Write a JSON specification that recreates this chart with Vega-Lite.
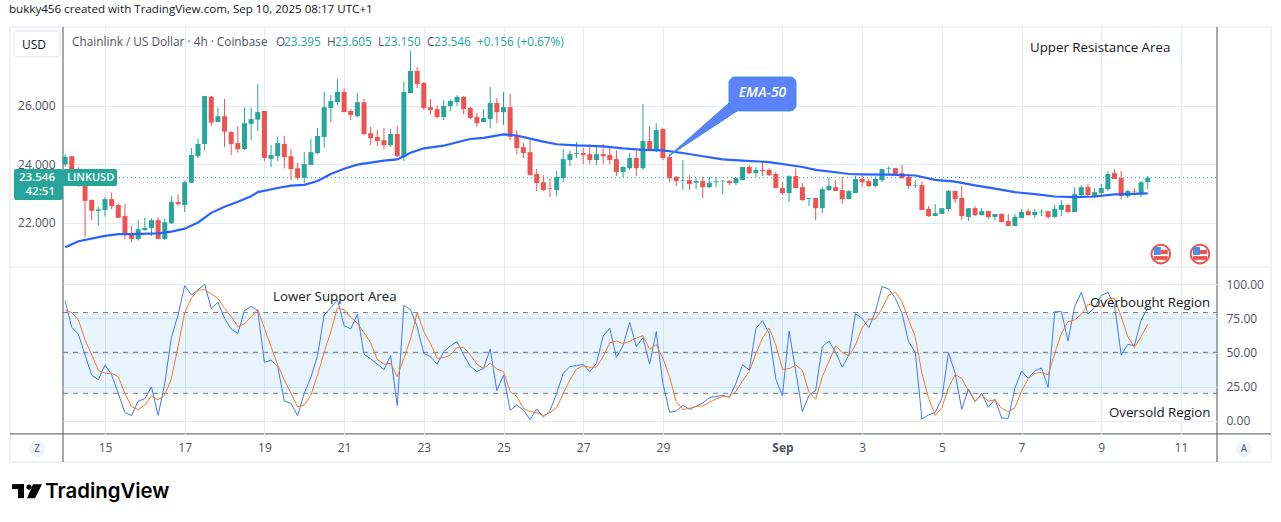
{
"$schema":"https://vega.github.io/schema/vega-lite/v6.json",
"background":"white",
"padding":{"left":9,"right":9,"top":3,"bottom":0},
"bounds":"flush",
"spacing":0,
"config":{"view":{"stroke":null},"font":"Open Sans","text":{"font":"Open Sans"}},
"datasets":{
"bars":[
{"t":"2025-08-14T00:00Z","o":24.00,"h":24.35,"l":23.92,"c":24.26,"k":87.8,"d":81.2},
{"t":"2025-08-14T04:00Z","o":24.28,"h":24.28,"l":23.69,"c":23.83,"k":68.5,"d":79.3},
{"t":"2025-08-14T08:00Z","o":23.83,"h":23.90,"l":23.23,"c":23.67,"k":63.4,"d":73.9},
{"t":"2025-08-14T12:00Z","o":23.67,"h":23.70,"l":21.52,"c":22.75,"k":48.3,"d":59.3},
{"t":"2025-08-14T16:00Z","o":22.78,"h":22.80,"l":22.09,"c":22.41,"k":33.4,"d":48.3},
{"t":"2025-08-14T20:00Z","o":22.41,"h":22.55,"l":21.90,"c":22.46,"k":30.2,"d":37.1},
{"t":"2025-08-15T00:00Z","o":22.44,"h":22.87,"l":22.21,"c":22.81,"k":41.0,"d":34.9},
{"t":"2025-08-15T04:00Z","o":22.81,"h":23.04,"l":22.47,"c":22.57,"k":33.7,"d":34.9},
{"t":"2025-08-15T08:00Z","o":22.61,"h":22.64,"l":22.17,"c":22.17,"k":20.2,"d":32.4},
{"t":"2025-08-15T12:00Z","o":22.23,"h":22.64,"l":21.44,"c":21.60,"k":6.1,"d":20.2},
{"t":"2025-08-15T16:00Z","o":21.61,"h":21.89,"l":21.34,"c":21.45,"k":4.1,"d":10.5},
{"t":"2025-08-15T20:00Z","o":21.44,"h":22.09,"l":21.39,"c":21.78,"k":14.6,"d":8.3},
{"t":"2025-08-16T00:00Z","o":21.75,"h":22.17,"l":21.73,"c":21.82,"k":16.3,"d":11.7},
{"t":"2025-08-16T04:00Z","o":21.82,"h":22.15,"l":21.55,"c":22.09,"k":24.9,"d":18.5},
{"t":"2025-08-16T08:00Z","o":22.09,"h":22.18,"l":21.44,"c":21.45,"k":4.1,"d":15.4},
{"t":"2025-08-16T12:00Z","o":21.44,"h":22.15,"l":21.41,"c":22.02,"k":27.6,"d":19.0},
{"t":"2025-08-16T16:00Z","o":21.98,"h":22.91,"l":21.96,"c":22.71,"k":61.2,"d":31.2},
{"t":"2025-08-16T20:00Z","o":22.71,"h":22.98,"l":22.58,"c":22.64,"k":77.6,"d":54.4},
{"t":"2025-08-17T00:00Z","o":22.61,"h":23.44,"l":22.37,"c":23.39,"k":99.0,"d":79.3},
{"t":"2025-08-17T04:00Z","o":23.37,"h":24.56,"l":23.37,"c":24.32,"k":92.2,"d":89.8},
{"t":"2025-08-17T08:00Z","o":24.28,"h":24.87,"l":24.22,"c":24.70,"k":95.9,"d":95.6},
{"t":"2025-08-17T12:00Z","o":24.70,"h":26.34,"l":24.47,"c":26.34,"k":100,"d":96.1},
{"t":"2025-08-17T16:00Z","o":26.32,"h":26.34,"l":25.31,"c":25.43,"k":82.4,"d":92.9},
{"t":"2025-08-17T20:00Z","o":25.45,"h":25.95,"l":25.45,"c":25.65,"k":86.8,"d":89.8},
{"t":"2025-08-18T00:00Z","o":25.65,"h":26.24,"l":24.60,"c":25.12,"k":75.1,"d":82.4},
{"t":"2025-08-18T04:00Z","o":25.11,"h":25.14,"l":24.32,"c":24.70,"k":67.3,"d":76.3},
{"t":"2025-08-18T08:00Z","o":24.73,"h":25.31,"l":24.40,"c":24.52,"k":64.1,"d":69.0},
{"t":"2025-08-18T12:00Z","o":24.52,"h":25.95,"l":24.49,"c":25.41,"k":80.7,"d":71.0},
{"t":"2025-08-18T16:00Z","o":25.39,"h":25.95,"l":24.83,"c":25.55,"k":83.9,"d":76.3},
{"t":"2025-08-18T20:00Z","o":25.53,"h":26.75,"l":25.14,"c":25.79,"k":80.7,"d":81.7},
{"t":"2025-08-19T00:00Z","o":25.83,"h":25.83,"l":24.11,"c":24.22,"k":42.9,"d":67.8},
{"t":"2025-08-19T04:00Z","o":24.19,"h":24.66,"l":23.91,"c":24.32,"k":44.6,"d":54.4},
{"t":"2025-08-19T08:00Z","o":24.28,"h":24.94,"l":24.11,"c":24.73,"k":39.8,"d":41.0},
{"t":"2025-08-19T12:00Z","o":24.70,"h":24.97,"l":23.87,"c":24.25,"k":14.6,"d":30.0},
{"t":"2025-08-19T16:00Z","o":24.28,"h":24.52,"l":23.46,"c":23.84,"k":12.9,"d":20.2},
{"t":"2025-08-19T20:00Z","o":23.87,"h":24.05,"l":23.46,"c":23.54,"k":3.9,"d":10.2},
{"t":"2025-08-20T00:00Z","o":23.54,"h":24.42,"l":23.36,"c":24.01,"k":20.2,"d":11.7},
{"t":"2025-08-20T04:00Z","o":23.98,"h":24.87,"l":23.98,"c":24.42,"k":32.0,"d":18.8},
{"t":"2025-08-20T08:00Z","o":24.39,"h":25.24,"l":24.35,"c":24.97,"k":47.8,"d":33.7},
{"t":"2025-08-20T12:00Z","o":24.94,"h":26.48,"l":24.58,"c":25.96,"k":77.6,"d":50.2},
{"t":"2025-08-20T16:00Z","o":25.93,"h":26.37,"l":25.45,"c":26.17,"k":82.9,"d":65.4},
{"t":"2025-08-20T20:00Z","o":26.13,"h":26.92,"l":26.03,"c":26.48,"k":88.5,"d":82.9},
{"t":"2025-08-21T00:00Z","o":26.48,"h":26.61,"l":25.79,"c":25.79,"k":69.8,"d":81.2},
{"t":"2025-08-21T04:00Z","o":25.83,"h":25.89,"l":25.52,"c":25.69,"k":67.3,"d":75.9},
{"t":"2025-08-21T08:00Z","o":25.65,"h":26.44,"l":25.62,"c":26.13,"k":78.0,"d":71.5},
{"t":"2025-08-21T12:00Z","o":26.13,"h":26.24,"l":25.00,"c":25.04,"k":48.8,"d":64.6},
{"t":"2025-08-21T16:00Z","o":25.07,"h":25.28,"l":24.66,"c":24.90,"k":45.4,"d":57.3},
{"t":"2025-08-21T20:00Z","o":24.94,"h":25.18,"l":24.63,"c":24.80,"k":41.7,"d":45.1},
{"t":"2025-08-22T00:00Z","o":24.83,"h":25.24,"l":24.52,"c":24.66,"k":37.6,"d":41.5},
{"t":"2025-08-22T04:00Z","o":24.66,"h":25.21,"l":24.60,"c":25.04,"k":47.8,"d":42.2},
{"t":"2025-08-22T08:00Z","o":25.04,"h":25.31,"l":24.25,"c":24.28,"k":11.2,"d":32.4},
{"t":"2025-08-22T12:00Z","o":24.25,"h":26.82,"l":24.11,"c":26.48,"k":84.6,"d":45.9},
{"t":"2025-08-22T16:00Z","o":26.44,"h":27.88,"l":26.44,"c":27.20,"k":81.5,"d":60.0},
{"t":"2025-08-22T20:00Z","o":27.20,"h":27.33,"l":26.61,"c":26.75,"k":69.0,"d":79.3},
{"t":"2025-08-23T00:00Z","o":26.79,"h":26.82,"l":25.86,"c":25.93,"k":49.5,"d":65.4},
{"t":"2025-08-23T04:00Z","o":25.96,"h":26.24,"l":25.72,"c":25.86,"k":47.1,"d":56.8},
{"t":"2025-08-23T08:00Z","o":25.89,"h":26.03,"l":25.59,"c":25.62,"k":41.5,"d":45.9},
{"t":"2025-08-23T12:00Z","o":25.62,"h":26.20,"l":25.52,"c":26.00,"k":50.7,"d":46.3},
{"t":"2025-08-23T16:00Z","o":26.00,"h":26.24,"l":25.83,"c":26.17,"k":54.9,"d":48.3},
{"t":"2025-08-23T20:00Z","o":26.13,"h":26.37,"l":26.00,"c":26.31,"k":58.0,"d":53.9},
{"t":"2025-08-24T00:00Z","o":26.31,"h":26.34,"l":25.72,"c":25.89,"k":48.3,"d":53.9},
{"t":"2025-08-24T04:00Z","o":25.93,"h":25.96,"l":25.55,"c":25.59,"k":40.0,"d":48.3},
{"t":"2025-08-24T08:00Z","o":25.62,"h":25.76,"l":25.28,"c":25.41,"k":36.1,"d":41.5},
{"t":"2025-08-24T12:00Z","o":25.45,"h":25.89,"l":25.45,"c":25.59,"k":38.5,"d":38.3},
{"t":"2025-08-24T16:00Z","o":25.55,"h":26.65,"l":25.24,"c":26.10,"k":52.7,"d":42.4},
{"t":"2025-08-24T20:00Z","o":26.10,"h":26.27,"l":25.41,"c":25.79,"k":22.2,"d":38.1},
{"t":"2025-08-25T00:00Z","o":25.79,"h":26.48,"l":25.35,"c":25.96,"k":33.7,"d":36.1},
{"t":"2025-08-25T04:00Z","o":25.96,"h":26.41,"l":24.83,"c":24.94,"k":7.8,"d":21.5},
{"t":"2025-08-25T08:00Z","o":25.00,"h":25.18,"l":24.35,"c":24.56,"k":11.7,"d":17.8},
{"t":"2025-08-25T12:00Z","o":24.59,"h":24.73,"l":24.22,"c":24.39,"k":8.0,"d":9.3},
{"t":"2025-08-25T16:00Z","o":24.42,"h":24.83,"l":23.63,"c":23.63,"k":1.0,"d":6.8},
{"t":"2025-08-25T20:00Z","o":23.67,"h":23.84,"l":23.09,"c":23.36,"k":8.8,"d":6.1},
{"t":"2025-08-26T00:00Z","o":23.39,"h":23.63,"l":23.09,"c":23.12,"k":2.9,"d":3.9},
{"t":"2025-08-26T04:00Z","o":23.19,"h":23.50,"l":22.88,"c":23.17,"k":7.6,"d":6.1},
{"t":"2025-08-26T08:00Z","o":23.12,"h":23.77,"l":22.91,"c":23.57,"k":20.2,"d":9.8},
{"t":"2025-08-26T12:00Z","o":23.53,"h":24.52,"l":23.39,"c":24.18,"k":34.9,"d":20.2},
{"t":"2025-08-26T16:00Z","o":24.15,"h":24.46,"l":23.94,"c":24.35,"k":39.8,"d":30.0},
{"t":"2025-08-26T20:00Z","o":24.36,"h":24.76,"l":24.22,"c":24.39,"k":40.5,"d":38.1},
{"t":"2025-08-27T00:00Z","o":24.39,"h":24.56,"l":24.01,"c":24.32,"k":41.5,"d":40.3},
{"t":"2025-08-27T04:00Z","o":24.35,"h":24.70,"l":24.01,"c":24.15,"k":36.1,"d":39.3},
{"t":"2025-08-27T08:00Z","o":24.15,"h":24.66,"l":23.98,"c":24.35,"k":42.2,"d":39.5},
{"t":"2025-08-27T12:00Z","o":24.35,"h":24.70,"l":24.01,"c":24.28,"k":62.2,"d":47.1},
{"t":"2025-08-27T16:00Z","o":24.32,"h":24.59,"l":24.01,"c":24.15,"k":67.8,"d":57.3},
{"t":"2025-08-27T20:00Z","o":24.18,"h":24.49,"l":23.60,"c":23.74,"k":46.6,"d":58.5},
{"t":"2025-08-28T00:00Z","o":23.74,"h":23.94,"l":23.57,"c":23.91,"k":55.1,"d":56.6},
{"t":"2025-08-28T04:00Z","o":23.87,"h":24.39,"l":23.81,"c":24.22,"k":72.2,"d":58.3},
{"t":"2025-08-28T08:00Z","o":24.22,"h":24.46,"l":23.60,"c":23.87,"k":54.4,"d":60.7},
{"t":"2025-08-28T12:00Z","o":23.87,"h":26.07,"l":23.81,"c":24.80,"k":61.0,"d":62.4},
{"t":"2025-08-28T16:00Z","o":24.80,"h":25.31,"l":24.46,"c":24.46,"k":41.5,"d":52.4},
{"t":"2025-08-28T20:00Z","o":24.46,"h":25.41,"l":24.42,"c":25.18,"k":65.4,"d":55.9},
{"t":"2025-08-29T00:00Z","o":25.21,"h":25.24,"l":24.15,"c":24.22,"k":27.6,"d":45.9},
{"t":"2025-08-29T04:00Z","o":24.25,"h":24.35,"l":23.39,"c":23.53,"k":6.3,"d":32.4},
{"t":"2025-08-29T08:00Z","o":23.57,"h":23.60,"l":23.26,"c":23.43,"k":7.3,"d":14.2},
{"t":"2025-08-29T12:00Z","o":23.44,"h":24.15,"l":23.12,"c":23.46,"k":11.5,"d":8.5},
{"t":"2025-08-29T16:00Z","o":23.46,"h":23.63,"l":23.12,"c":23.33,"k":8.5,"d":9.3},
{"t":"2025-08-29T20:00Z","o":23.37,"h":23.53,"l":23.15,"c":23.43,"k":10.7,"d":10.7},
{"t":"2025-08-30T00:00Z","o":23.43,"h":23.57,"l":22.85,"c":23.22,"k":13.2,"d":11.0},
{"t":"2025-08-30T04:00Z","o":23.22,"h":23.57,"l":23.19,"c":23.36,"k":17.1,"d":13.7},
{"t":"2025-08-30T08:00Z","o":23.39,"h":23.57,"l":23.22,"c":23.42,"k":18.0,"d":16.1},
{"t":"2025-08-30T12:00Z","o":23.42,"h":23.46,"l":22.98,"c":23.44,"k":18.8,"d":18.0},
{"t":"2025-08-30T16:00Z","o":23.43,"h":23.46,"l":23.29,"c":23.36,"k":17.3,"d":18.0},
{"t":"2025-08-30T20:00Z","o":23.36,"h":23.57,"l":23.29,"c":23.53,"k":27.6,"d":21.5},
{"t":"2025-08-31T00:00Z","o":23.46,"h":23.91,"l":23.46,"c":23.91,"k":41.2,"d":29.5},
{"t":"2025-08-31T04:00Z","o":23.91,"h":23.98,"l":23.67,"c":23.70,"k":37.3,"d":36.1},
{"t":"2025-08-31T08:00Z","o":23.70,"h":23.91,"l":23.57,"c":23.81,"k":67.6,"d":49.3},
{"t":"2025-08-31T12:00Z","o":23.81,"h":24.08,"l":23.60,"c":23.77,"k":73.4,"d":60.5},
{"t":"2025-08-31T16:00Z","o":23.81,"h":23.87,"l":23.60,"c":23.63,"k":64.1,"d":68.0},
{"t":"2025-08-31T20:00Z","o":23.67,"h":23.74,"l":23.19,"c":23.19,"k":30.7,"d":55.6},
{"t":"2025-09-01T00:00Z","o":23.19,"h":23.39,"l":22.95,"c":23.02,"k":18.5,"d":37.8},
{"t":"2025-09-01T04:00Z","o":23.02,"h":23.63,"l":22.71,"c":23.60,"k":65.9,"d":38.3},
{"t":"2025-09-01T08:00Z","o":23.60,"h":23.87,"l":23.19,"c":23.19,"k":36.6,"d":41.0},
{"t":"2025-09-01T12:00Z","o":23.22,"h":23.36,"l":22.74,"c":22.78,"k":6.8,"d":37.1},
{"t":"2025-09-01T16:00Z","o":22.82,"h":22.85,"l":22.57,"c":22.85,"k":18.8,"d":21.0},
{"t":"2025-09-01T20:00Z","o":22.85,"h":22.85,"l":22.09,"c":22.50,"k":22.4,"d":15.9},
{"t":"2025-09-02T00:00Z","o":22.50,"h":23.22,"l":22.33,"c":23.15,"k":54.4,"d":32.4},
{"t":"2025-09-02T04:00Z","o":23.12,"h":23.57,"l":23.09,"c":23.26,"k":58.5,"d":43.4},
{"t":"2025-09-02T08:00Z","o":23.22,"h":23.46,"l":23.09,"c":23.09,"k":50.2,"d":54.9},
{"t":"2025-09-02T12:00Z","o":23.12,"h":23.57,"l":22.64,"c":22.81,"k":39.3,"d":50.2},
{"t":"2025-09-02T16:00Z","o":22.81,"h":23.12,"l":22.81,"c":23.09,"k":48.3,"d":47.6},
{"t":"2025-09-02T20:00Z","o":23.02,"h":23.60,"l":23.02,"c":23.50,"k":78.5,"d":55.6},
{"t":"2025-09-03T00:00Z","o":23.50,"h":23.63,"l":23.22,"c":23.39,"k":75.1,"d":68.3},
{"t":"2025-09-03T04:00Z","o":23.43,"h":23.50,"l":23.22,"c":23.26,"k":68.3,"d":74.4},
{"t":"2025-09-03T08:00Z","o":23.26,"h":23.60,"l":23.22,"c":23.50,"k":80.0,"d":74.6},
{"t":"2025-09-03T12:00Z","o":23.46,"h":23.84,"l":23.39,"c":23.84,"k":98.3,"d":82.4},
{"t":"2025-09-03T16:00Z","o":23.85,"h":23.94,"l":23.67,"c":23.87,"k":96.6,"d":92.2},
{"t":"2025-09-03T20:00Z","o":23.87,"h":23.87,"l":23.67,"c":23.67,"k":89.8,"d":94.1},
{"t":"2025-09-04T00:00Z","o":23.70,"h":23.98,"l":23.50,"c":23.53,"k":78.8,"d":87.3},
{"t":"2025-09-04T04:00Z","o":23.57,"h":23.67,"l":23.15,"c":23.26,"k":58.0,"d":73.9},
{"t":"2025-09-04T08:00Z","o":23.27,"h":23.46,"l":23.19,"c":23.29,"k":50.2,"d":61.7},
{"t":"2025-09-04T12:00Z","o":23.29,"h":23.43,"l":22.44,"c":22.44,"k":1.5,"d":34.9},
{"t":"2025-09-04T16:00Z","o":22.47,"h":22.57,"l":22.20,"c":22.23,"k":4.4,"d":16.6},
{"t":"2025-09-04T20:00Z","o":22.23,"h":22.64,"l":22.23,"c":22.33,"k":6.3,"d":4.1},
{"t":"2025-09-05T00:00Z","o":22.30,"h":22.50,"l":22.30,"c":22.50,"k":16.6,"d":9.8},
{"t":"2025-09-05T04:00Z","o":22.47,"h":23.12,"l":22.40,"c":23.09,"k":50.0,"d":24.4},
{"t":"2025-09-05T08:00Z","o":23.09,"h":23.09,"l":22.68,"c":22.81,"k":34.9,"d":33.9},
{"t":"2025-09-05T12:00Z","o":22.85,"h":23.26,"l":22.09,"c":22.23,"k":8.5,"d":31.2},
{"t":"2025-09-05T16:00Z","o":22.20,"h":22.50,"l":22.06,"c":22.50,"k":23.4,"d":22.0},
{"t":"2025-09-05T20:00Z","o":22.50,"h":22.57,"l":22.23,"c":22.26,"k":14.2,"d":14.6},
{"t":"2025-09-06T00:00Z","o":22.26,"h":22.50,"l":22.26,"c":22.40,"k":20.2,"d":19.0},
{"t":"2025-09-06T04:00Z","o":22.40,"h":22.40,"l":22.13,"c":22.20,"k":10.0,"d":14.6},
{"t":"2025-09-06T08:00Z","o":22.20,"h":22.30,"l":22.09,"c":22.30,"k":15.9,"d":15.4},
{"t":"2025-09-06T12:00Z","o":22.30,"h":22.33,"l":22.02,"c":22.02,"k":2.2,"d":9.3},
{"t":"2025-09-06T16:00Z","o":22.06,"h":22.30,"l":21.89,"c":21.89,"k":1.9,"d":6.8},
{"t":"2025-09-06T20:00Z","o":21.89,"h":22.30,"l":21.89,"c":22.20,"k":23.9,"d":9.8},
{"t":"2025-09-07T00:00Z","o":22.16,"h":22.47,"l":22.16,"c":22.37,"k":36.6,"d":22.0},
{"t":"2025-09-07T04:00Z","o":22.40,"h":22.47,"l":22.26,"c":22.26,"k":31.2,"d":30.7},
{"t":"2025-09-07T08:00Z","o":22.26,"h":22.47,"l":22.16,"c":22.37,"k":36.6,"d":34.9},
{"t":"2025-09-07T12:00Z","o":22.36,"h":22.47,"l":22.23,"c":22.38,"k":38.8,"d":35.6},
{"t":"2025-09-07T16:00Z","o":22.40,"h":22.40,"l":22.13,"c":22.20,"k":24.6,"d":33.7},
{"t":"2025-09-07T20:00Z","o":22.20,"h":22.61,"l":22.16,"c":22.47,"k":80.0,"d":49.5},
{"t":"2025-09-08T00:00Z","o":22.44,"h":22.78,"l":22.23,"c":22.61,"k":80.0,"d":64.1},
{"t":"2025-09-08T04:00Z","o":22.61,"h":22.64,"l":22.33,"c":22.37,"k":58.5,"d":72.7},
{"t":"2025-09-08T08:00Z","o":22.37,"h":23.22,"l":22.37,"c":22.98,"k":83.7,"d":73.9},
{"t":"2025-09-08T12:00Z","o":22.95,"h":23.29,"l":22.91,"c":23.22,"k":94.1,"d":78.0},
{"t":"2025-09-08T16:00Z","o":23.22,"h":23.33,"l":22.91,"c":22.95,"k":78.3,"d":85.4},
{"t":"2025-09-08T20:00Z","o":22.91,"h":23.19,"l":22.85,"c":23.05,"k":82.9,"d":84.2},
{"t":"2025-09-09T00:00Z","o":23.02,"h":23.33,"l":22.88,"c":23.19,"k":91.7,"d":83.7},
{"t":"2025-09-09T04:00Z","o":23.15,"h":23.77,"l":23.09,"c":23.67,"k":94.1,"d":89.3},
{"t":"2025-09-09T08:00Z","o":23.70,"h":23.84,"l":23.50,"c":23.50,"k":84.9,"d":89.8},
{"t":"2025-09-09T12:00Z","o":23.53,"h":23.77,"l":22.81,"c":22.91,"k":48.3,"d":76.3},
{"t":"2025-09-09T16:00Z","o":22.91,"h":23.12,"l":22.85,"c":23.09,"k":56.1,"d":61.7},
{"t":"2025-09-09T20:00Z","o":23.07,"h":23.19,"l":22.95,"c":23.05,"k":55.1,"d":53.7},
{"t":"2025-09-10T00:00Z","o":23.02,"h":23.43,"l":22.88,"c":23.39,"k":73.9,"d":61.7},
{"t":"2025-09-10T04:00Z","o":23.395,"h":23.605,"l":23.15,"c":23.546,"k":82.4,"d":70.7}
],
"ema":[
{"t":"2025-08-14T00:00Z","p":21.16},{"t":"2025-08-14T08:00Z","p":21.37},{"t":"2025-08-15T00:00Z","p":21.55},{"t":"2025-08-15T08:00Z","p":21.61},{"t":"2025-08-15T16:00Z","p":21.61},{"t":"2025-08-16T08:00Z","p":21.64},{"t":"2025-08-16T16:00Z","p":21.70},{"t":"2025-08-17T00:00Z","p":21.80},{"t":"2025-08-17T08:00Z","p":22.01},{"t":"2025-08-17T16:00Z","p":22.34},{"t":"2025-08-18T00:00Z","p":22.55},{"t":"2025-08-18T08:00Z","p":22.72},{"t":"2025-08-18T16:00Z","p":22.91},{"t":"2025-08-18T20:00Z","p":23.05},{"t":"2025-08-19T08:00Z","p":23.19},{"t":"2025-08-19T16:00Z","p":23.27},{"t":"2025-08-20T00:00Z","p":23.30},{"t":"2025-08-20T08:00Z","p":23.43},{"t":"2025-08-20T16:00Z","p":23.67},{"t":"2025-08-21T00:00Z","p":23.85},{"t":"2025-08-21T08:00Z","p":23.99},{"t":"2025-08-21T16:00Z","p":24.06},{"t":"2025-08-22T00:00Z","p":24.13},{"t":"2025-08-22T08:00Z","p":24.17},{"t":"2025-08-22T16:00Z","p":24.40},{"t":"2025-08-23T00:00Z","p":24.55},{"t":"2025-08-23T12:00Z","p":24.64},{"t":"2025-08-23T20:00Z","p":24.76},{"t":"2025-08-24T04:00Z","p":24.87},{"t":"2025-08-24T12:00Z","p":24.91},{"t":"2025-08-25T00:00Z","p":25.03},{"t":"2025-08-25T08:00Z","p":24.99},{"t":"2025-08-25T16:00Z","p":24.88},{"t":"2025-08-26T00:00Z","p":24.78},{"t":"2025-08-26T08:00Z","p":24.69},{"t":"2025-08-26T20:00Z","p":24.65},{"t":"2025-08-27T12:00Z","p":24.62},{"t":"2025-08-28T00:00Z","p":24.55},{"t":"2025-08-28T12:00Z","p":24.50},{"t":"2025-08-29T00:00Z","p":24.48},{"t":"2025-08-29T12:00Z","p":24.39},{"t":"2025-08-30T00:00Z","p":24.28},{"t":"2025-08-30T12:00Z","p":24.17},{"t":"2025-08-31T00:00Z","p":24.13},{"t":"2025-08-31T16:00Z","p":24.08},{"t":"2025-09-01T04:00Z","p":23.98},{"t":"2025-09-01T12:00Z","p":23.91},{"t":"2025-09-01T20:00Z","p":23.81},{"t":"2025-09-02T08:00Z","p":23.73},{"t":"2025-09-02T16:00Z","p":23.67},{"t":"2025-09-03T00:00Z","p":23.66},{"t":"2025-09-03T16:00Z","p":23.65},{"t":"2025-09-04T08:00Z","p":23.62},{"t":"2025-09-04T20:00Z","p":23.47},{"t":"2025-09-05T08:00Z","p":23.41},{"t":"2025-09-05T20:00Z","p":23.28},{"t":"2025-09-06T08:00Z","p":23.17},{"t":"2025-09-06T20:00Z","p":23.05},{"t":"2025-09-07T08:00Z","p":22.98},{"t":"2025-09-07T20:00Z","p":22.90},{"t":"2025-09-08T08:00Z","p":22.88},{"t":"2025-09-08T20:00Z","p":22.90},{"t":"2025-09-09T08:00Z","p":22.97},{"t":"2025-09-09T20:00Z","p":22.99},{"t":"2025-09-10T04:00Z","p":23.01}
]
},
"vconcat":[
{
"width":1154,"height":240,
"resolve":{"scale":{"color":"independent"}},
"encoding":{"x":{"field":"t","type":"temporal","title":null,
  "scale":{"type":"utc","padding":0,"domain":[{"year":2025,"month":"aug","date":13,"hours":22,"minutes":42,"utc":true},{"year":2025,"month":"sep","date":11,"hours":21,"minutes":43,"utc":true}]},
  "axis":{"labels":false,"ticks":false,"domain":false,"grid":true,"gridColor":"#e4ebf2","values":[
    {"year":2025,"month":"aug","date":15,"utc":true},{"year":2025,"month":"aug","date":17,"utc":true},{"year":2025,"month":"aug","date":19,"utc":true},{"year":2025,"month":"aug","date":21,"utc":true},{"year":2025,"month":"aug","date":23,"utc":true},{"year":2025,"month":"aug","date":25,"utc":true},{"year":2025,"month":"aug","date":27,"utc":true},{"year":2025,"month":"aug","date":29,"utc":true},{"year":2025,"month":"sep","date":1,"utc":true},{"year":2025,"month":"sep","date":3,"utc":true},{"year":2025,"month":"sep","date":5,"utc":true},{"year":2025,"month":"sep","date":7,"utc":true},{"year":2025,"month":"sep","date":9,"utc":true},{"year":2025,"month":"sep","date":11,"utc":true}]}}},
"layer":[
{"data":{"values":[{"t":"2025-08-12T14:47Z","t2":"2025-09-13T06:14Z","top":28.705,"bot":13.81}]},
 "mark":{"type":"rect","fill":"transparent","stroke":"#eff2f7","strokeWidth":2,"clip":false},
 "encoding":{"x2":{"field":"t2"},
  "y":{"field":"top","type":"quantitative","title":null,"scale":{"domain":[20.486,28.705],"nice":false,"zero":false},
   "axis":{"values":[22,24,26],"format":".3f","ticks":false,"domain":false,"labelPadding":8,"labelFontSize":12,"labelColor":"#50535e","grid":true,"gridColor":"#e4ebf2"}},
  "y2":{"field":"bot"}}},
{"data":{"values":[
  {"t":"2025-08-12T14:47Z","t2":"2025-09-13T06:14Z","a":20.486,"b":20.486,"kind":"light"},
  {"t":"2025-08-12T14:47Z","t2":"2025-09-13T06:14Z","a":14.77,"b":14.77,"kind":"dark"},
  {"t":"2025-08-13T22:42Z","t2":"2025-08-13T22:42Z","a":28.705,"b":13.81,"kind":"dark"},
  {"t":"2025-09-11T21:43Z","t2":"2025-09-11T21:43Z","a":28.705,"b":13.81,"kind":"dark"}]},
 "mark":{"type":"rule","strokeWidth":1,"clip":false},
 "encoding":{"x2":{"field":"t2"},
  "y":{"field":"a","type":"quantitative","title":null,"scale":{"domain":[20.486,28.705],"nice":false,"zero":false}},
  "y2":{"field":"b"},
  "color":{"field":"kind","type":"nominal","legend":null,"scale":{"domain":["light","dark"],"range":["#e0e3eb","#50535e"]}}}},
{"data":{"values":[{"t":"2025-08-13T22:42Z","t2":"2025-09-11T21:43Z","p":23.546}]},
 "mark":{"type":"rule","color":"#26a69a","strokeDash":[1,3],"strokeWidth":1},
 "encoding":{"x2":{"field":"t2"},
  "y":{"field":"p","type":"quantitative","title":null,"scale":{"domain":[20.486,28.705],"nice":false,"zero":false}}}},
{"data":{"name":"bars"},
 "mark":{"type":"rule","strokeWidth":1},
 "encoding":{
  "y":{"field":"l","type":"quantitative","title":null,"scale":{"domain":[20.486,28.705],"nice":false,"zero":false}},
  "y2":{"field":"h"},
  "color":{"condition":{"test":"datum.c>=datum.o","value":"#26a69a"},"value":"#ef5350"}}},
{"data":{"name":"bars"},
 "mark":{"type":"bar","size":5},
 "encoding":{
  "y":{"field":"o","type":"quantitative","title":null,"scale":{"domain":[20.486,28.705],"nice":false,"zero":false}},
  "y2":{"field":"c"},
  "color":{"condition":{"test":"datum.c>=datum.o","value":"#26a69a"},"value":"#ef5350"}}},
{"data":{"name":"ema"},
 "mark":{"type":"line","color":"#2962ff","strokeWidth":2.2},
 "encoding":{"y":{"field":"p","type":"quantitative","title":null,"scale":{"domain":[20.486,28.705],"nice":false,"zero":false}}}},
{"data":{"values":[
  {"t":"2025-08-29T03:40Z","a":24.29,"b":24.29},
  {"t":"2025-08-30T15:49Z","a":26.10,"b":25.65},
  {"t":"2025-08-30T20:37Z","a":26.10,"b":25.83}]},
 "mark":{"type":"area","color":"#5b82fb","stroke":"#3d8fd8","strokeWidth":1},
 "encoding":{"y":{"field":"a","type":"quantitative","title":null,"scale":{"domain":[20.486,28.705],"nice":false,"zero":false}},"y2":{"field":"b"}}},
{"data":{"values":[{"t":"2025-08-30T15:49Z","t2":"2025-09-01T08:10Z","a":26.99,"b":25.83}]},
 "mark":{"type":"rect","color":"#5b82fb","stroke":"#3d8fd8","strokeWidth":1,"cornerRadius":6},
 "encoding":{"x2":{"field":"t2"},"y":{"field":"a","type":"quantitative","title":null,"scale":{"domain":[20.486,28.705],"nice":false,"zero":false}},"y2":{"field":"b"}}},
{"data":{"values":[{"t":"2025-08-31T12:00Z","p":26.45,"label":"EMA-50"}]},
 "mark":{"type":"text","color":"white","fontStyle":"italic","fontWeight":600,"fontSize":14,"align":"center","baseline":"middle"},
 "encoding":{"y":{"field":"p","type":"quantitative","title":null,"scale":{"domain":[20.486,28.705],"nice":false,"zero":false}},"text":{"field":"label"}}},
{"data":{"values":[
  {"t":"2025-08-12T17:11Z","t2":"2025-08-13T22:42Z","a":23.84,"b":22.78},
  {"t":"2025-08-13T22:42Z","t2":"2025-08-15T07:14Z","a":23.84,"b":23.26}]},
 "mark":{"type":"rect","color":"#26a69a","cornerRadius":2,"clip":false},
 "encoding":{"x2":{"field":"t2"},"y":{"field":"a","type":"quantitative","title":null,"scale":{"domain":[20.486,28.705],"nice":false,"zero":false}},"y2":{"field":"b"}}},
{"data":{"values":[
  {"t":"2025-08-13T17:53Z","p":23.53,"label":"23.546"},
  {"t":"2025-08-13T17:53Z","p":23.05,"label":"42:51"}]},
 "mark":{"type":"text","color":"white","fontSize":11.5,"fontWeight":600,"align":"right","baseline":"middle","clip":false},
 "encoding":{"y":{"field":"p","type":"quantitative","title":null,"scale":{"domain":[20.486,28.705],"nice":false,"zero":false}},"text":{"field":"label"}}},
{"data":{"values":[{"t":"2025-08-14T01:06Z","p":23.53,"label":"LINKUSD"}]},
 "mark":{"type":"text","color":"white","fontSize":11,"fontWeight":600,"align":"left","baseline":"middle"},
 "encoding":{"y":{"field":"p","type":"quantitative","title":null,"scale":{"domain":[20.486,28.705],"nice":false,"zero":false}},"text":{"field":"label"}}},
{"data":{"values":[{"t":"2025-08-12T17:11Z","t2":"2025-08-13T20:54Z","a":28.57,"b":27.68}]},
 "mark":{"type":"rect","fill":"white","stroke":"#e0e3eb","strokeWidth":1,"cornerRadius":3,"clip":false},
 "encoding":{"x2":{"field":"t2"},"y":{"field":"a","type":"quantitative","title":null,"scale":{"domain":[20.486,28.705],"nice":false,"zero":false}},"y2":{"field":"b"}}},
{"data":{"values":[{"t":"2025-08-13T05:13Z","p":28.09,"label":"USD"}]},
 "mark":{"type":"text","color":"#131722","fontSize":12,"align":"center","baseline":"middle","clip":false},
 "encoding":{"y":{"field":"p","type":"quantitative","title":null,"scale":{"domain":[20.486,28.705],"nice":false,"zero":false}},"text":{"field":"label"}}},
{"data":{"values":[
  {"t":"2025-08-14T04:08Z","p":28.19,"label":"Chainlink / US Dollar · 4h · Coinbase","kind":"muted"},
  {"t":"2025-08-19T06:59Z","p":28.19,"label":"O","kind":"muted"},
  {"t":"2025-08-19T11:48Z","p":28.19,"label":"23.395","kind":"teal"},
  {"t":"2025-08-20T13:42Z","p":28.19,"label":"H","kind":"muted"},
  {"t":"2025-08-20T18:32Z","p":28.19,"label":"23.605","kind":"teal"},
  {"t":"2025-08-21T20:25Z","p":28.19,"label":"L","kind":"muted"},
  {"t":"2025-08-22T00:02Z","p":28.19,"label":"23.150","kind":"teal"},
  {"t":"2025-08-23T01:55Z","p":28.19,"label":"C","kind":"muted"},
  {"t":"2025-08-23T06:09Z","p":28.19,"label":"23.546","kind":"teal"},
  {"t":"2025-08-24T08:02Z","p":28.19,"label":"+0.156","kind":"teal"},
  {"t":"2025-08-25T08:08Z","p":28.19,"label":"(+0.67%)","kind":"teal"}]},
 "mark":{"type":"text","fontSize":11.8,"align":"left","baseline":"middle"},
 "encoding":{"y":{"field":"p","type":"quantitative","title":null,"scale":{"domain":[20.486,28.705],"nice":false,"zero":false}},
  "text":{"field":"label"},
  "color":{"field":"kind","type":"nominal","legend":null,"scale":{"domain":["muted","teal"],"range":["#50535e","#26a69a"]}}}},
{"data":{"values":[{"t":"2025-09-07T05:05Z","p":27.99,"label":"Upper Resistance Area"}]},
 "mark":{"type":"text","color":"#131722","fontSize":13.3,"align":"left","baseline":"middle"},
 "encoding":{"y":{"field":"p","type":"quantitative","title":null,"scale":{"domain":[20.486,28.705],"nice":false,"zero":false}},"text":{"field":"label"}}},
{"data":{"values":[{"t":"2025-08-12T14:11Z","p":29.29,"label":"bukky456 created with TradingView.com, Sep 10, 2025 08:17 UTC+1"}]},
 "mark":{"type":"text","color":"#131722","fontSize":11.6,"align":"left","baseline":"middle","clip":false},
 "encoding":{"y":{"field":"p","type":"quantitative","title":null,"scale":{"domain":[20.486,28.705],"nice":false,"zero":false}},"text":{"field":"label"}}},
{"data":{"values":[
  {"t":"2025-09-10T11:52Z","p":20.93},
  {"t":"2025-09-11T11:28Z","p":20.93}]},
 "mark":{"type":"point","filled":true,"fill":"white","stroke":"#ef5350","strokeWidth":2,"size":350,"opacity":1},
 "encoding":{"y":{"field":"p","type":"quantitative","title":null,"scale":{"domain":[20.486,28.705],"nice":false,"zero":false}}}},
{"data":{"values":[
  {"t":"2025-09-10T07:39Z","t2":"2025-09-10T11:52Z","a":21.17,"b":20.90,"kind":"blue"},
  {"t":"2025-09-10T11:52Z","t2":"2025-09-10T16:06Z","a":21.07,"b":20.93,"kind":"red"},
  {"t":"2025-09-10T07:39Z","t2":"2025-09-10T16:06Z","a":20.86,"b":20.73,"kind":"red"},
  {"t":"2025-09-11T07:15Z","t2":"2025-09-11T11:28Z","a":21.17,"b":20.90,"kind":"blue"},
  {"t":"2025-09-11T11:28Z","t2":"2025-09-11T15:42Z","a":21.07,"b":20.93,"kind":"red"},
  {"t":"2025-09-11T07:15Z","t2":"2025-09-11T15:42Z","a":20.86,"b":20.73,"kind":"red"}]},
 "mark":{"type":"rect"},
 "encoding":{"x2":{"field":"t2"},"y":{"field":"a","type":"quantitative","title":null,"scale":{"domain":[20.486,28.705],"nice":false,"zero":false}},"y2":{"field":"b"},
  "color":{"field":"kind","type":"nominal","legend":null,"scale":{"domain":["blue","red"],"range":["#4a90e2","#ef5350"]}}}},
{"data":{"values":[
  {"t":"2025-08-12T15:59Z","t2":"2025-08-12T23:12Z","a":13.05,"b":12.88},
  {"t":"2025-08-12T19:36Z","t2":"2025-08-12T23:12Z","a":13.05,"b":12.57}]},
 "mark":{"type":"rect","color":"#000000","clip":false},
 "encoding":{"x2":{"field":"t2"},"y":{"field":"a","type":"quantitative","title":null,"scale":{"domain":[20.486,28.705],"nice":false,"zero":false}},"y2":{"field":"b"}}},
{"data":{"values":[{"t":"2025-08-13T02:14Z","p":12.95}]},
 "mark":{"type":"point","filled":true,"color":"#000000","size":28,"opacity":1,"clip":false},
 "encoding":{"y":{"field":"p","type":"quantitative","title":null,"scale":{"domain":[20.486,28.705],"nice":false,"zero":false}}}},
{"data":{"values":[
  {"t":"2025-08-13T01:02Z","a":12.57,"b":12.57},
  {"t":"2025-08-13T04:38Z","a":13.05,"b":12.57},
  {"t":"2025-08-13T05:50Z","a":13.05,"b":12.57},
  {"t":"2025-08-13T10:04Z","a":13.05,"b":13.05}]},
 "mark":{"type":"area","color":"#000000","clip":false},
 "encoding":{"y":{"field":"a","type":"quantitative","title":null,"scale":{"domain":[20.486,28.705],"nice":false,"zero":false}},"y2":{"field":"b"}}},
{"data":{"values":[{"t":"2025-08-13T12:00Z","p":12.78,"label":"TradingView"}]},
 "mark":{"type":"text","color":"#000000","font":"Inter","fontSize":20.4,"fontWeight":600,"align":"left","baseline":"middle","clip":false},
 "encoding":{"y":{"field":"p","type":"quantitative","title":null,"scale":{"domain":[20.486,28.705],"nice":false,"zero":false}},"text":{"field":"label"}}}
]
},
{
"width":1154,"height":167,
"encoding":{"x":{"field":"t","type":"temporal","title":null,
  "scale":{"type":"utc","padding":0,"domain":[{"year":2025,"month":"aug","date":13,"hours":22,"minutes":42,"utc":true},{"year":2025,"month":"sep","date":11,"hours":21,"minutes":43,"utc":true}]},
  "axis":{"ticks":false,"domain":false,"grid":true,"gridColor":"#e4ebf2","labelPadding":8,"labelFontSize":12,"labelColor":"#50535e","labelAngle":0,
   "labelFontWeight":{"condition":{"test":"utcdate(datum.value)==1","value":"bold"},"value":"normal"},
   "labelExpr":"utcdate(datum.value)==1?'Sep':''+utcdate(datum.value)",
   "values":[
    {"year":2025,"month":"aug","date":15,"utc":true},{"year":2025,"month":"aug","date":17,"utc":true},{"year":2025,"month":"aug","date":19,"utc":true},{"year":2025,"month":"aug","date":21,"utc":true},{"year":2025,"month":"aug","date":23,"utc":true},{"year":2025,"month":"aug","date":25,"utc":true},{"year":2025,"month":"aug","date":27,"utc":true},{"year":2025,"month":"aug","date":29,"utc":true},{"year":2025,"month":"sep","date":1,"utc":true},{"year":2025,"month":"sep","date":3,"utc":true},{"year":2025,"month":"sep","date":5,"utc":true},{"year":2025,"month":"sep","date":7,"utc":true},{"year":2025,"month":"sep","date":9,"utc":true},{"year":2025,"month":"sep","date":11,"utc":true}]}}},
"layer":[
{"data":{"values":[{"t":"2025-08-13T22:42Z","t2":"2025-09-11T21:43Z","hi":79.3,"lo":20.2}]},
 "mark":{"type":"rect","color":"#2196f3","opacity":0.1},
 "encoding":{"x2":{"field":"t2"},
  "y":{"field":"hi","type":"quantitative","title":null,"scale":{"domain":[-9.51,112.65],"nice":false,"zero":false},
   "axis":{"orient":"right","values":[0,25,50,75,100],"format":".2f","ticks":false,"domain":false,"labelPadding":9,"labelFontSize":12,"labelColor":"#50535e","grid":true,"gridColor":"#e4ebf2"}},
  "y2":{"field":"lo"}}},
{"data":{"values":[
  {"t":"2025-08-13T22:42Z","t2":"2025-09-11T21:43Z","v":79.3},
  {"t":"2025-08-13T22:42Z","t2":"2025-09-11T21:43Z","v":50.2},
  {"t":"2025-08-13T22:42Z","t2":"2025-09-11T21:43Z","v":20.2}]},
 "mark":{"type":"rule","color":"#787b86","strokeDash":[5,5],"strokeWidth":1},
 "encoding":{"x2":{"field":"t2"},"y":{"field":"v","type":"quantitative","title":null,"scale":{"domain":[-9.51,112.65],"nice":false,"zero":false}}}},
{"data":{"name":"bars"},
 "mark":{"type":"line","color":"#4478f5","strokeWidth":1},
 "encoding":{"y":{"field":"k","type":"quantitative","title":null,"scale":{"domain":[-9.51,112.65],"nice":false,"zero":false}}}},
{"data":{"name":"bars"},
 "mark":{"type":"line","color":"#f57c1f","strokeWidth":1},
 "encoding":{"y":{"field":"d","type":"quantitative","title":null,"scale":{"domain":[-9.51,112.65],"nice":false,"zero":false}}}},
{"data":{"values":[
  {"t":"2025-08-19T05:11Z","v":90.7,"label":"Lower Support Area"},
  {"t":"2025-09-08T17:14Z","v":86.3,"label":"Overbought Region"},
  {"t":"2025-09-09T04:37Z","v":5.9,"label":"Oversold Region"}]},
 "mark":{"type":"text","color":"#131722","fontSize":13.3,"align":"left","baseline":"middle"},
 "encoding":{"y":{"field":"v","type":"quantitative","title":null,"scale":{"domain":[-9.51,112.65],"nice":false,"zero":false}},"text":{"field":"label"}}},
{"data":{"values":[
  {"t":"2025-08-13T07:03Z","v":-20.5},
  {"t":"2025-09-12T13:58Z","v":-20.5}]},
 "mark":{"type":"point","filled":true,"color":"#f0f3fa","size":270,"opacity":1,"clip":false},
 "encoding":{"y":{"field":"v","type":"quantitative","title":null,"scale":{"domain":[-9.51,112.65],"nice":false,"zero":false}}}},
{"data":{"values":[
  {"t":"2025-08-13T07:03Z","v":-20.5,"label":"Z"},
  {"t":"2025-09-12T13:58Z","v":-20.5,"label":"A"}]},
 "mark":{"type":"text","color":"#50535e","fontSize":10,"align":"center","baseline":"middle","clip":false},
 "encoding":{"y":{"field":"v","type":"quantitative","title":null,"scale":{"domain":[-9.51,112.65],"nice":false,"zero":false}},"text":{"field":"label"}}}
]
}
]
}
